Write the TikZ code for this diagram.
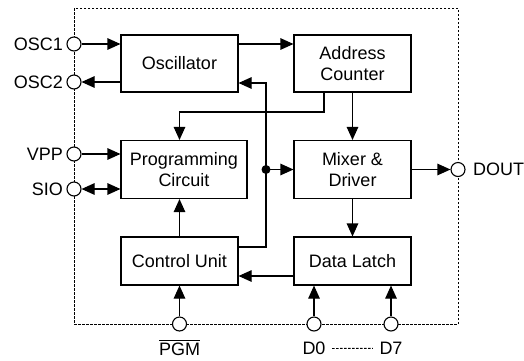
\documentclass[tikz,border=0pt]{standalone}
\usepackage{fontspec}
\setmainfont{Liberation Sans}
\usepackage{amsmath,amssymb}
\usetikzlibrary{arrows.meta}

\begin{document}
\begin{tikzpicture}[x=1pt,y=-1pt,line width=1.1pt,
    >={Triangle[length=13pt,width=11.5pt]},
    every node/.style={font=\fontsize{18}{20.5}\selectfont},
    blk/.style={draw,align=center,inner sep=0pt,minimum width=117pt},
    pad/.style={draw,circle,fill=white,inner sep=0pt,minimum size=14pt},
    border/.style={dash pattern=on 2.5pt off 1.5pt,line width=0.9pt}]
          \useasboundingbox (0,0) rectangle (524,360);
          % chip outline
          \draw[border] (74,8) rectangle (458,324);
          % blocks
          \node[blk,minimum height=57pt] (OSC) at (179.5,63.5) {Oscillator};
          \node[blk,minimum height=57pt] (ADC) at (352.5,63.5) {Address\\Counter};
          \node[blk,minimum height=58pt,minimum width=126pt] (PRG) at (184,169.5) {Programming\\Circuit};
          \node[blk,minimum height=58pt] (MIX) at (352.5,169.5) {Mixer \&\\Driver};
          \node[blk,minimum height=48pt] (CTL) at (179.5,261) {Control Unit};
          \node[blk,minimum height=48pt] (DL) at (352.5,261) {Data Latch};
          % pins
          \node[pad] (OSC1) at (74,44) {};
          \node[pad] (OSC2) at (74,82) {};
          \node[pad] (VPP) at (74,154) {};
          \node[pad] (SIO) at (74,189) {};
          \node[pad] (DOUT) at (458,169.5) {};
          \node[pad] (PGM) at (179.5,324) {};
          \node[pad] (D0) at (314,324) {};
          \node[pad] (D7) at (391,324) {};
          \node[anchor=east,inner sep=3pt] at (OSC1.west) {OSC1};
          \node[anchor=east,inner sep=3pt] at (OSC2.west) {OSC2};
          \node[anchor=east,inner sep=3pt] at (VPP.west) {VPP};
          \node[anchor=east,inner sep=3pt] at (SIO.west) {SIO};
          \node[anchor=west,inner sep=7pt] at (DOUT.east) {DOUT};
          \node[anchor=north,inner sep=0pt,yshift=-7pt] at (PGM.south) {$\overline{\mbox{PGM}}$};
          \node[anchor=north,inner sep=0pt,yshift=-10pt] (L0) at (D0.south) {D0};
          \node[anchor=north,inner sep=0pt,yshift=-10pt] (L7) at (D7.south) {D7};
          \draw[border] ([xshift=6pt]L0.east) -- ([xshift=-6pt]L7.west);
          % signals
          \coordinate (J) at (266,169.5);
          \coordinate (B) at (324,112);
          \draw[->] (OSC1) -- (OSC1 -| OSC.west);
          \draw[->] (OSC2 -| OSC.west) -- (OSC2);
          \draw[->] (OSC.east |- OSC1) -- (ADC.west |- OSC1);
          \draw[->] (VPP) -- (VPP -| PRG.west);
          \draw[<->] (SIO) -- (SIO -| PRG.west);
          \draw[->] (B |- ADC.south) |- (OSC.center |- B) -- (OSC.center |- PRG.north);
          \draw[->] (ADC) -- (MIX);
          \draw[->] ([yshift=14pt]CTL.east) -| (J) |- ([yshift=-19.5pt]OSC.east);
          \fill (J) circle (4.5pt);
          \draw[->] (J) -- (MIX.west |- J);
          \draw[->] (MIX) -- (DOUT);
          \draw[->] (MIX) -- (DL);
          \draw[->] ([yshift=-15pt]DL.west) -- ([yshift=-15pt]CTL.east);
          \draw[->] (CTL) -- (CTL.north |- PRG.south);
          \draw[->] (PGM) -- (CTL);
          \draw[->] (D0) -- (D0 |- DL.south);
          \draw[->] (D7) -- (D7 |- DL.south);
        \end{tikzpicture}
\end{document}
